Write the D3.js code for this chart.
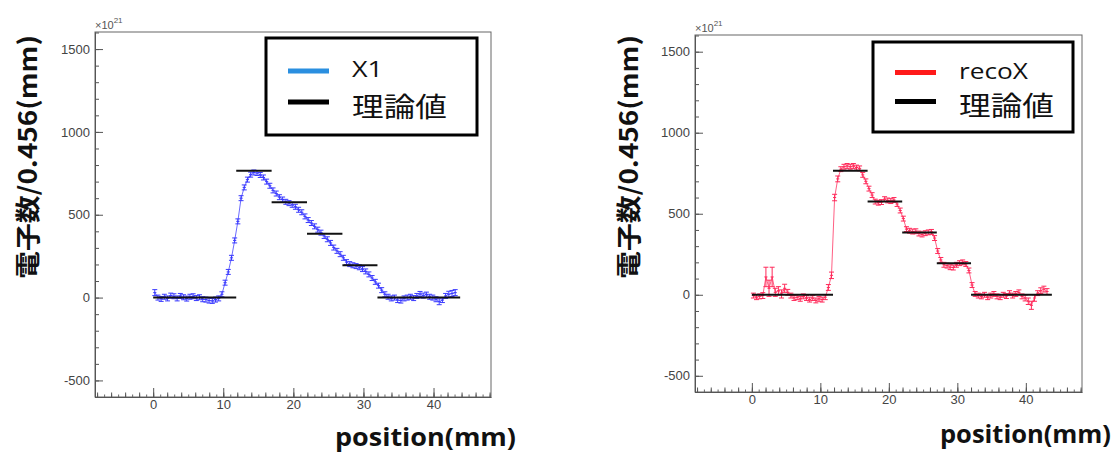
<!DOCTYPE html>
<html><head><meta charset="utf-8">
<script src="https://cdn.jsdelivr.net/npm/d3@7"></script>
<style>body{margin:0;background:#fff;} svg{display:block;}</style>
</head><body><svg id="c" width="1117" height="453"></svg>
<script>
// ---- data ----
const binWidth = 0.456;            // mm per bin
const x1Values = [
 30, 0, -8, 5, -5, 12, 8, -5, 10, 2,
 -6, 5, 8, -3, 2, -10, -12, -18, -20, -12,
 -5, 20, 90, 155, 240, 345, 460, 600, 665, 712,
 742, 755, 752, 740, 725, 700, 675, 647, 628, 606,
 592, 578, 570, 560, 548, 530, 515, 490, 468, 450,
 430, 410, 392, 372, 352, 330, 302, 282, 262, 240,
 214, 202, 195, 190, 183, 172, 158, 140, 118, 95,
 72, 45, 20, 5, -5, 0, -15, -18, -5, 0,
 5, -3, 10, 22, 12, 18, 5, 0, -10, -25,
 -15, 10, 20, 25, 30];
const x1Errors = [
 18, 15, 15, 15, 15, 15, 15, 15, 15, 15,
 15, 15, 15, 15, 15, 15, 15, 15, 15, 15,
 15, 15, 15, 15, 15, 15, 15, 15, 15, 15,
 15, 15, 15, 15, 15, 15, 15, 15, 15, 15,
 15, 15, 15, 15, 15, 15, 15, 15, 15, 15,
 15, 15, 15, 15, 15, 15, 15, 15, 15, 15,
 15, 15, 15, 15, 15, 15, 15, 15, 15, 15,
 15, 15, 15, 15, 15, 15, 15, 15, 15, 15,
 15, 15, 15, 15, 15, 15, 15, 15, 15, 18,
 15, 15, 18, 18, 18];
const recoXValues = [
 -5, -15, -10, -5, 110, 40, 110, 15, 25, 5,
 40, 15, -5, -20, -15, -25, -10, -20, -30, -20,
 -35, -25, -30, -15, 45, 120, 600, 715, 775, 790,
 795, 790, 795, 785, 780, 740, 700, 655, 615, 575,
 568, 572, 590, 582, 578, 585, 560, 520, 470, 405,
 395, 390, 392, 378, 372, 380, 385, 388, 350, 270,
 215, 185, 180, 170, 168, 185, 195, 200, 190, 150,
 60, 5, -5, -10, 0, -15, -5, 5, -10, -15,
 0, -8, 10, -5, 5, 15, -10, -20, -40, -65,
 -20, 10, 25, 35, 20];
const recoXErrors = [
 15, 15, 15, 18, 60, 50, 60, 25, 25, 25,
 25, 18, 15, 15, 15, 15, 15, 15, 15, 15,
 15, 15, 15, 15, 18, 20, 20, 18, 15, 15,
 15, 15, 15, 15, 15, 15, 15, 15, 15, 15,
 15, 15, 15, 15, 15, 15, 15, 15, 15, 15,
 15, 15, 15, 15, 15, 15, 15, 15, 15, 15,
 15, 15, 15, 15, 15, 15, 15, 15, 15, 15,
 15, 15, 15, 15, 15, 15, 15, 15, 15, 15,
 15, 15, 15, 15, 15, 15, 15, 18, 20, 25,
 20, 15, 18, 18, 18];
const theoryEdges = [0, 11.85, 16.9, 21.95, 27.0, 32.0, 43.8];
const theoryValues = [0, 765, 575, 385, 195, 0];
const xTickValues = [0, 10, 20, 30, 40];
const yTickValues = [-500, 0, 500, 1000, 1500];
const xDomain = [-8.3, 48.2];
const yDomain = [-600, 1603];
const yTitle = "電子数/0.456(mm)";
const xTitle = "position(mm)";
const theoryName = "理論値";

// ---- layout ----
const panels = [
  {values: x1Values, errors: x1Errors, name: "X1", nameW: 31, color: "#3a3aff", legendColor: "#2a8fe0",
   frame: [95, 32, 491, 397], legend: [266, 38, 477, 135], yTitleX: 28, xTitleX: 516, xTitleY: 446, xTitleW: 181, expY: 29},
  {values: recoXValues, errors: recoXErrors, name: "recoX", nameW: 69, color: "#ff2a5a", legendColor: "#ff1a1a",
   frame: [695, 35, 1082, 392], legend: [873, 42, 1073, 132], yTitleX: 629, xTitleX: 1111, xTitleY: 443, xTitleW: 171, expY: 32}
];

const svg = d3.select("#c");
const tickFont = "'Liberation Sans', Arial, sans-serif";
const plainFormat = d => String(d);

panels.forEach(p => {
  const [fx0, fy0, fx1, fy1] = p.frame;
  const x = d3.scaleLinear().domain(xDomain).range([fx0, fx1]);
  const y = d3.scaleLinear().domain(yDomain).range([fy1, fy0]);
  const g = svg.append("g");

  // frame
  g.append("rect").attr("x", fx0).attr("y", fy0).attr("width", fx1 - fx0).attr("height", fy1 - fy0)
    .attr("fill", "none").attr("stroke", "#666").attr("stroke-width", 1);

  // y axis (ticks inward)
  const yMinor = d3.range(-600, 1601, 100);
  g.append("g").attr("transform", `translate(${fx0},0)`)
    .call(d3.axisLeft(y).tickValues(yMinor).tickSizeInner(-4).tickSizeOuter(0).tickFormat(""))
    .call(a => a.select(".domain").remove())
    .call(a => a.selectAll("line").attr("stroke", "#555"));
  g.append("g").attr("transform", `translate(${fx0},0)`)
    .call(d3.axisLeft(y).tickValues(yTickValues).tickSizeInner(-8).tickSizeOuter(0).tickPadding(5).tickFormat(plainFormat))
    .call(a => a.select(".domain").attr("stroke", "#555"))
    .call(a => a.selectAll("line").attr("stroke", "#555"))
    .call(a => a.selectAll("text").attr("font-family", tickFont).attr("font-size", 13).attr("fill", "#444"));

  // x axis (ticks inward)
  const xTiny = d3.range(-8, 49, 1);
  const xMinor = d3.range(-8, 49, 2);
  g.append("g").attr("transform", `translate(0,${fy1})`)
    .call(d3.axisBottom(x).tickValues(xTiny).tickSizeInner(-2.5).tickSizeOuter(0).tickFormat(""))
    .call(a => a.select(".domain").remove())
    .call(a => a.selectAll("line").attr("stroke", "#666"));
  g.append("g").attr("transform", `translate(0,${fy1})`)
    .call(d3.axisBottom(x).tickValues(xMinor).tickSizeInner(-4.5).tickSizeOuter(0).tickFormat(""))
    .call(a => a.select(".domain").remove())
    .call(a => a.selectAll("line").attr("stroke", "#555"));
  g.append("g").attr("transform", `translate(0,${fy1})`)
    .call(d3.axisBottom(x).tickValues(xTickValues).tickSizeInner(-9).tickSizeOuter(0).tickPadding(3).tickFormat(plainFormat))
    .call(a => a.select(".domain").attr("stroke", "#555"))
    .call(a => a.selectAll("line").attr("stroke", "#555"))
    .call(a => a.selectAll("text").attr("font-family", tickFont).attr("font-size", 13).attr("fill", "#444"));

  // exponent label
  const ex = g.append("text").attr("x", fx0).attr("y", p.expY).attr("font-family", tickFont)
    .attr("font-size", 11).attr("fill", "#555");
  ex.append("tspan").text("×10");
  ex.append("tspan").attr("dy", -6).attr("font-size", 8).text("21");

  // data
  const pts = p.values.map((v, i) => ({c: (i + 0.5) * binWidth, v, e: p.errors[i]}));
  const dg = g.append("g").attr("stroke", p.color).attr("fill", "none");
  dg.append("path").datum(pts)
    .attr("d", d3.line().x(d => x(d.c)).y(d => y(d.v)))
    .attr("stroke-width", 1).attr("stroke-opacity", 0.75);
  const eb = dg.selectAll("g.eb").data(pts).join("g").attr("class", "eb").attr("stroke-width", 1);
  eb.append("line").attr("x1", d => x(d.c)).attr("x2", d => x(d.c))
    .attr("y1", d => y(d.v - d.e)).attr("y2", d => y(d.v + d.e));
  eb.append("line").attr("x1", d => x(d.c - binWidth / 2)).attr("x2", d => x(d.c + binWidth / 2))
    .attr("y1", d => y(d.v)).attr("y2", d => y(d.v));
  eb.append("line").attr("x1", d => x(d.c) - 2.5).attr("x2", d => x(d.c) + 2.5)
    .attr("y1", d => y(d.v + d.e)).attr("y2", d => y(d.v + d.e));
  eb.append("line").attr("x1", d => x(d.c) - 2.5).attr("x2", d => x(d.c) + 2.5)
    .attr("y1", d => y(d.v - d.e)).attr("y2", d => y(d.v - d.e));

  // theory steps
  g.append("g").selectAll("line").data(theoryValues).join("line")
    .attr("x1", (d, i) => x(theoryEdges[i])).attr("x2", (d, i) => x(theoryEdges[i + 1]))
    .attr("y1", d => y(d)).attr("y2", d => y(d))
    .attr("stroke", "#111").attr("stroke-width", 2);

  // legend
  const [lx0, ly0, lx1, ly1] = p.legend;
  g.append("rect").attr("x", lx0).attr("y", ly0).attr("width", lx1 - lx0).attr("height", ly1 - ly0)
    .attr("fill", "#fff").attr("stroke", "#000").attr("stroke-width", 3);
  const row1 = ly0 + (ly1 - ly0) * 0.34, row2 = ly0 + (ly1 - ly0) * 0.66;
  g.append("line").attr("x1", lx0 + 22).attr("x2", lx0 + 63).attr("y1", row1).attr("y2", row1)
    .attr("stroke", p.legendColor).attr("stroke-width", 5);
  g.append("line").attr("x1", lx0 + 22).attr("x2", lx0 + 63).attr("y1", row2).attr("y2", row2)
    .attr("stroke", "#000").attr("stroke-width", 5);
  g.append("text").attr("x", lx0 + 86).attr("y", row1 - 2).attr("dy", "0.36em")
    .attr("font-family", "'Open Sans', 'Noto Sans', sans-serif").attr("font-size", 22).attr("fill", "#111")
    .attr("textLength", p.nameW).attr("lengthAdjust", "spacingAndGlyphs")
    .text(p.name);
  g.append("text").attr("x", lx0 + 86).attr("y", row2 + 5).attr("dy", "0.36em")
    .attr("font-family", "'Noto Sans CJK JP', sans-serif").attr("font-size", 27).attr("fill", "#111")
    .attr("textLength", 95).attr("lengthAdjust", "spacingAndGlyphs")
    .text(theoryName);

  // axis titles
  const cy = 157;
  g.append("text").attr("transform", `translate(${p.yTitleX},${cy}) rotate(-90)`)
    .attr("text-anchor", "middle").attr("dy", "0.36em")
    .attr("font-family", "'Noto Sans CJK JP', sans-serif").attr("font-weight", 700).attr("font-size", 25)
    .attr("textLength", 244).attr("lengthAdjust", "spacingAndGlyphs").attr("fill", "#111")
    .text(yTitle);
  g.append("text").attr("x", p.xTitleX).attr("y", p.xTitleY).attr("text-anchor", "end")
    .attr("font-family", "'Open Sans', 'Noto Sans', sans-serif").attr("font-weight", 700).attr("font-size", 25)
    .attr("textLength", p.xTitleW).attr("lengthAdjust", "spacingAndGlyphs").attr("fill", "#111")
    .text(xTitle);
});
</script>
</body></html>
